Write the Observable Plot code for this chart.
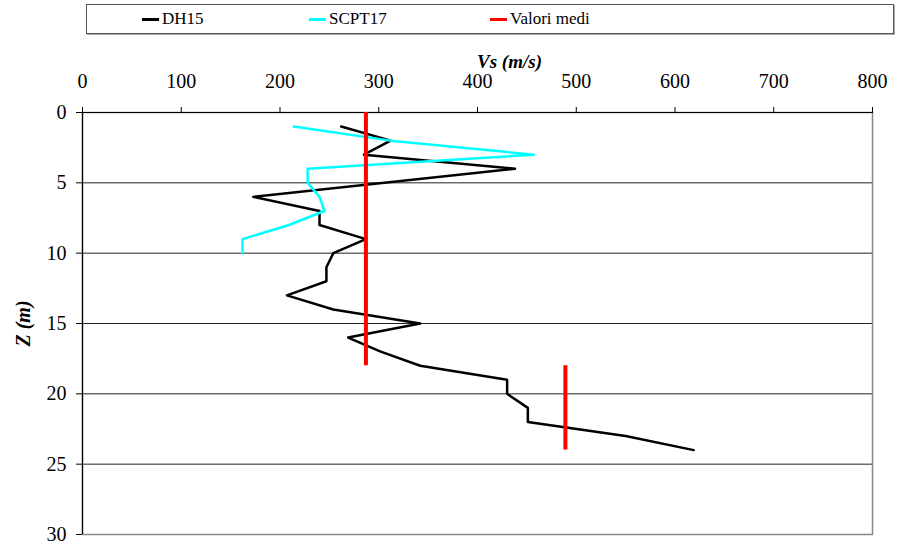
<!DOCTYPE html>
<html><head><meta charset="utf-8">
<script src="https://cdn.jsdelivr.net/npm/d3@7"></script>
<script src="https://cdn.jsdelivr.net/npm/@observablehq/plot@0.6"></script>
<style>
body{margin:0;background:#fff;}
#wrap{position:relative;width:905px;height:544px;overflow:hidden;}
#legend{position:absolute;left:86px;top:4px;width:806px;height:28px;border:1px solid #555;box-shadow:1px 1px 0 #aaa;font-family:"Liberation Serif","Times New Roman","DejaVu Serif",serif;font-size:17px;color:#000;}
.item{position:absolute;top:0;height:28px;display:flex;align-items:center;white-space:nowrap;}
.sw{width:17px;height:3px;margin-right:3px;}
#chart{position:absolute;left:0;top:40px;}
</style></head>
<body><div id="wrap"><div id="legend"></div><div id="chart"></div></div>
<script>
// DH15 profile
const depthDH15 = [1, 2, 3, 4, 6, 7, 8, 9, 10, 11, 12, 13, 14, 15, 16, 17, 18, 19, 20, 21, 22, 23, 24];
const vsDH15    = [262, 312, 285, 438, 173, 240, 240, 287, 254, 247, 247, 207, 254, 342, 269, 302, 342, 430, 430, 451, 451, 550, 619];
// SCPT17 profile
const depthSCPT17 = [1, 2, 3, 4, 5, 6, 7, 8, 9, 10];
const vsSCPT17    = [214, 312, 457, 228, 228, 240, 245, 209, 162, 162];
// Valori medi (mean values over depth ranges)
const mediVs     = [287, 489];
const mediTop    = [0, 18];
const mediBottom = [18, 24];
// Ticks and labels
const xTicks = [0, 100, 200, 300, 400, 500, 600, 700, 800];
const yTicks = [0, 5, 10, 15, 20, 25, 30];
const seriesNames = ["DH15", "SCPT17", "Valori medi"];
const seriesColors = ["#000000", "#00ffff", "#ff0000"];
const xTitle = "Vs (m/s)";
const yTitle = "Z (m)";

const dh = depthDH15.map((z, i) => ({z, vs: vsDH15[i]}));
const sc = depthSCPT17.map((z, i) => ({z, vs: vsSCPT17[i]}));
const medi = mediVs.map((v, i) => ({v, z1: mediTop[i], z2: mediBottom[i]}));

const serif = '"Liberation Serif", "Times New Roman", "DejaVu Serif", serif';

// legend
const legend = document.getElementById("legend");
const legLeft = [55, 222, 403];
seriesNames.forEach((n, i) => {
  const it = document.createElement("div");
  it.className = "item";
  it.style.left = legLeft[i] + "px";
  const sw = document.createElement("span");
  sw.className = "sw";
  sw.style.background = seriesColors[i];
  const t = document.createElement("span");
  t.textContent = n;
  it.appendChild(sw); it.appendChild(t);
  legend.appendChild(it);
});

const plot = Plot.plot({
  width: 905, height: 504,
  marginTop: 72, marginBottom: 10, marginLeft: 82, marginRight: 33,
  style: {fontFamily: serif, fontSize: "20px", color: "#000", background: "#fff", overflow: "visible"},
  x: {domain: [0, 800]},
  y: {domain: [0, 30], reverse: true},
  marks: [
    Plot.gridY(yTicks, {stroke: "#222", strokeOpacity: 1, strokeWidth: 1}),
    Plot.frame({stroke: "#888", strokeWidth: 1.5}),
    Plot.axisX(xTicks, {anchor: "top", tickSize: 6, tickPadding: 19, label: null, fontFamily: serif}),
    Plot.axisY(yTicks, {anchor: "left", tickSize: 6, tickPadding: 10, label: null, fontFamily: serif}),
    Plot.ruleX([0], {stroke: "#000", strokeWidth: 1.2}),
    Plot.ruleY([0], {stroke: "#000", strokeWidth: 1.2}),
    Plot.line(dh, {x: "vs", y: "z", stroke: seriesColors[0], strokeWidth: 2.5}),
    Plot.line(sc, {x: "vs", y: "z", stroke: seriesColors[1], strokeWidth: 2.5}),
    Plot.ruleX(medi, {x: "v", y1: "z1", y2: "z2", stroke: seriesColors[2], strokeWidth: 4}),
    Plot.text([xTitle], {text: d => d, frameAnchor: "top", lineAnchor: "middle", textAnchor: "middle", dx: 32, dy: -51, fontWeight: "bold", fontStyle: "italic", fontSize: 19, fontFamily: serif}),
    Plot.text([yTitle], {text: d => d, frameAnchor: "left", textAnchor: "middle", lineAnchor: "middle", dx: -59, rotate: -90, fontWeight: "bold", fontStyle: "italic", fontSize: 20, fontFamily: serif})
  ]
});
document.getElementById("chart").appendChild(plot);
</script>
</body></html>
